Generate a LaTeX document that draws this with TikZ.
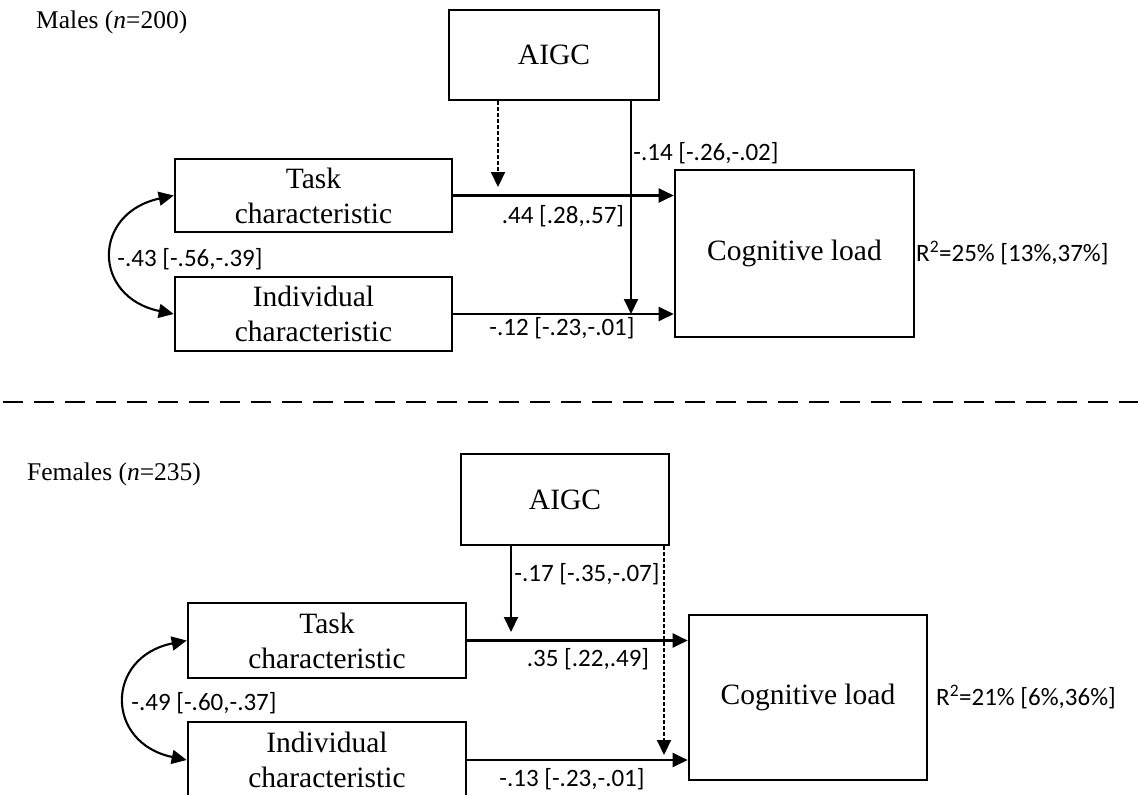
\documentclass[tikz,border=0pt]{standalone}
\usepackage{fontspec}
\setmainfont{Liberation Serif}
\newfontfamily\numfont{Carlito}
\usetikzlibrary{arrows.meta}
\begin{document}
\begin{tikzpicture}[x=1pt,y=-1pt,
  box/.style={draw, line width=2.6pt, inner sep=0pt, align=center, font=\fontsize{29.5}{35}\selectfont},
  arr/.style={line width=2.1pt, -{Triangle[length=15pt,width=14pt]}},
  dotarr/.style={arr, dash pattern=on 3.5pt off 2.5pt},
  dblarr/.style={line width=2.1pt, {Triangle[length=15pt,width=14pt]}-{Triangle[length=15pt,width=14pt]}},
  coef/.style={font=\numfont\fontsize{25}{30}\selectfont, inner sep=0pt},
  grp/.style={font=\fontsize{25.5}{30}\selectfont, inner sep=0pt, anchor=base west},
  sep/.style={line width=2.2pt, dash pattern=on 20pt off 11pt}
]
\useasboundingbox (0,0) rectangle (1138,795);

% ---------- Males ----------
\node[grp] (mlab) at (36,28) {Males (\textit{n}=200)};
\node[box, minimum width=210pt, minimum height=90pt] (aigc1) at (554,55) {AIGC};
\node[box, minimum width=277pt, minimum height=73pt] (task1) at (313.5,195.5) {Task\\characteristic};
\node[box, minimum width=277pt, minimum height=74pt] (ind1) at (313.5,314) {Individual\\characteristic};
\node[box, minimum width=239pt, minimum height=167pt] (cog1) at (794.5,253.5) {Cognitive load};

\draw[arr] (task1.east) -- (task1.east -| cog1.west);
\draw[arr] (ind1.east) -- (ind1.east -| cog1.west);
\coordinate (d1) at (498,187);
\draw[dotarr] (aigc1.south -| d1) -- (d1);
\coordinate (s1) at (631,314);
\draw[arr] (aigc1.south -| s1) -- (s1);
\draw[dblarr] (task1.west) .. controls (92,213) and (92,297) .. (ind1.west);

\node[coef] (c1) at (563,216) {.44 [.28,.57]};
\node[coef] (c2) at (706,153) {-.14 [-.26,-.02]};
\node[coef] (c3) at (562,328) {-.12 [-.23,-.01]};
\node[coef] (c4) at (190,259) {-.43 [-.56,-.39]};
\node[coef, anchor=west] (r1) at (916,253) {R\textsuperscript{2}=25\% [13\%,37\%]};

% ---------- separator ----------
\coordinate (sepL) at (3,402);
\coordinate (sepR) at (1138,402);
\draw[sep] (sepL) -- (sepR);

% ---------- Females ----------
\node[grp] (flab) at (27,480) {Females (\textit{n}=235)};
\node[box, minimum width=208pt, minimum height=91pt] (aigc2) at (565,499.5) {AIGC};
\node[box, minimum width=278pt, minimum height=75pt] (task2) at (327,640.5) {Task\\characteristic};
\node[box, minimum width=278pt, minimum height=76pt] (ind2) at (327,760) {Individual\\characteristic};
\node[box, minimum width=238pt, minimum height=165pt] (cog2) at (808,697.5) {Cognitive load};

\draw[arr] (task2.east) -- (task2.east -| cog2.west);
\draw[arr] (ind2.east) -- (ind2.east -| cog2.west);
\coordinate (s2) at (511,632);
\draw[arr] (aigc2.south -| s2) -- (s2);
\coordinate (d2) at (664,755);
\draw[dotarr] (aigc2.south -| d2) -- (d2);
\draw[dblarr] (task2.west) .. controls (105,657) and (105,743) .. (ind2.west);

\node[coef] (c5) at (587,574) {-.17 [-.35,-.07]};
\node[coef] (c6) at (588,659) {.35 [.22,.49]};
\node[coef] (c7) at (572,779) {-.13 [-.23,-.01]};
\node[coef] (c8) at (204,703) {-.49 [-.60,-.37]};
\node[coef, anchor=west] (r2) at (936,697) {R\textsuperscript{2}=21\% [6\%,36\%]};
\end{tikzpicture}
\end{document}
